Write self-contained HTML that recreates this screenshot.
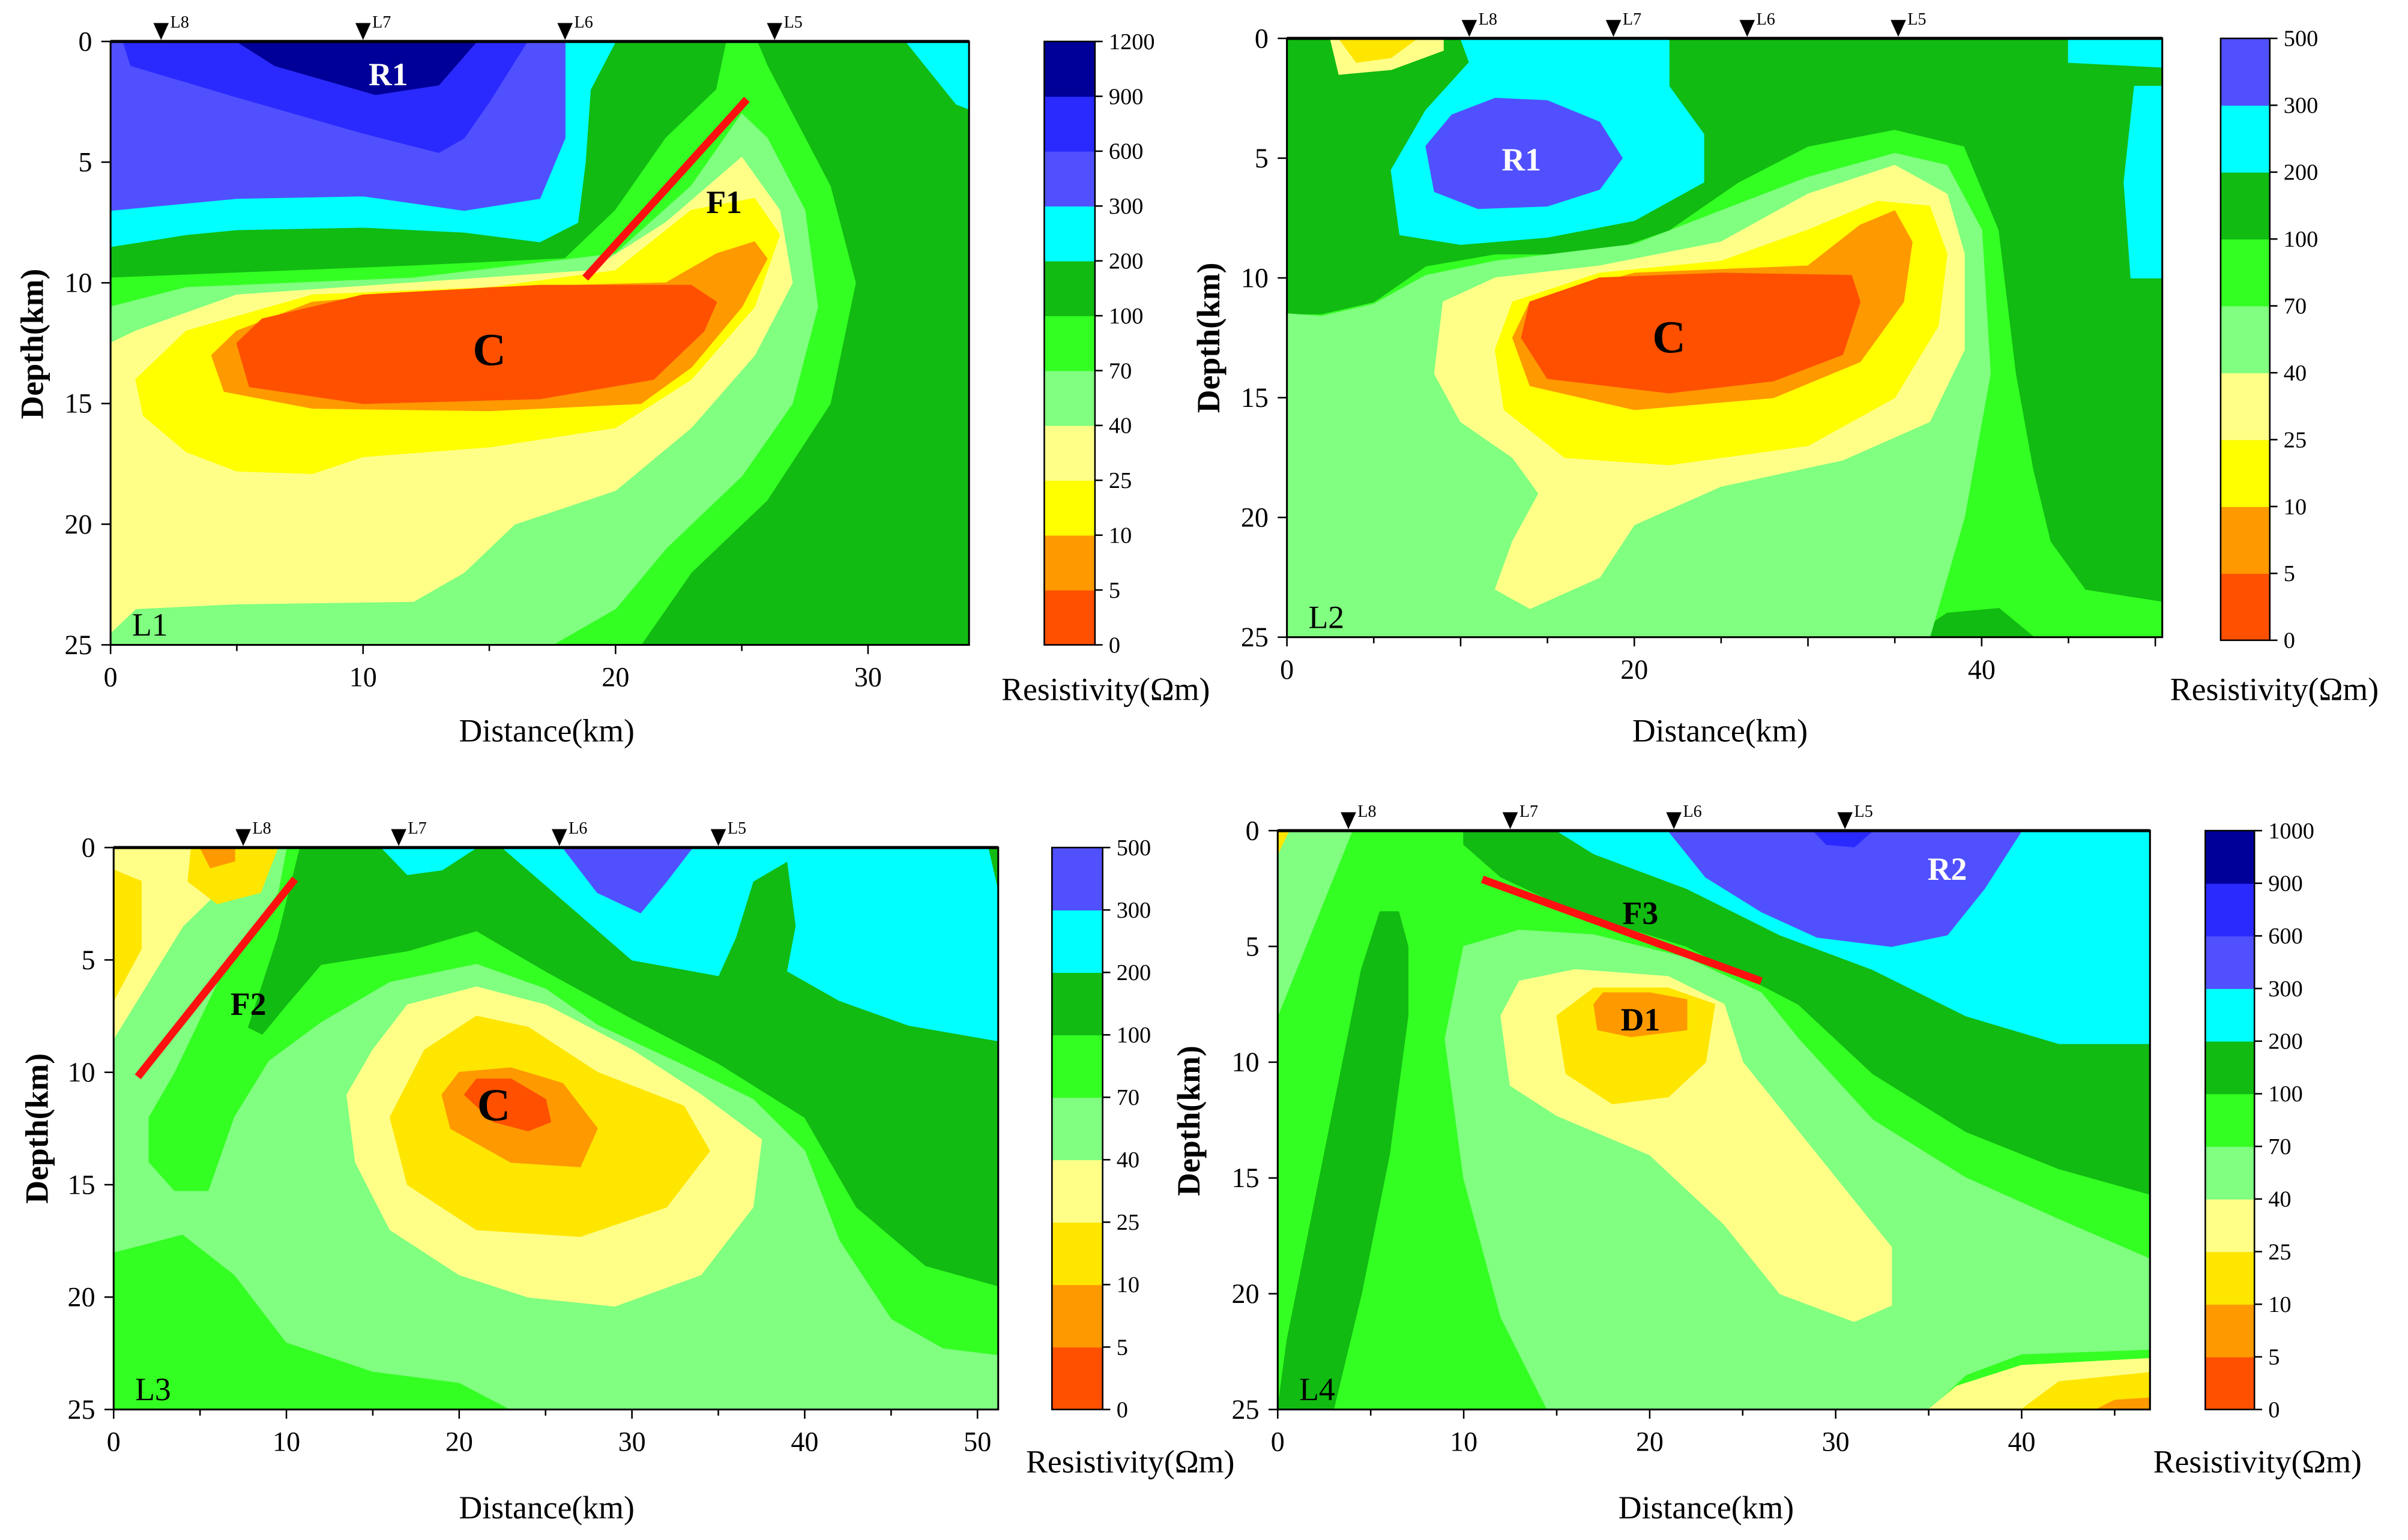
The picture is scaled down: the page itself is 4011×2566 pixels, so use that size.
<!DOCTYPE html>
<html><head><meta charset="utf-8"><style>
html,body{margin:0;padding:0;background:#fff;}
svg{display:block;font-family:"Liberation Serif",serif;}
svg text{font-family:"Liberation Serif",serif;}
</style></head><body>
<svg id="fig" width="4011" height="2566" viewBox="0 0 1568 1003" preserveAspectRatio="none" font-family="Liberation Serif, serif" xmlns="http://www.w3.org/2000/svg"></svg>
<script>
// ---------- data ----------
const C={red:'#ff5000',orange:'#ff9900',yellow:'#ffff00',gold:'#ffe600',lyellow:'#ffff88',lgreen:'#80ff80',green:'#33ff22',dgreen:'#11bb11',cyan:'#00ffff',blue1:'#5050ff',blue2:'#2a2aff',navy:'#000099'};
const depthTicks=[0,5,10,15,20,25];
const cbLabels12=['0','5','10','25','40','70','100','200','300','600','900','1200'];
const cbLabels10=['0','5','10','25','40','70','100','200','300','500'];
const cbLabelsL4=['0','5','10','25','40','70','100','200','300','600','900','1000'];
const cbColors11=['red','orange','yellow','lyellow','lgreen','green','dgreen','cyan','blue1','blue2','navy'];
const cbColors9=['red','orange','yellow','lyellow','lgreen','green','dgreen','cyan','blue1'];
const cbColors9g=['red','orange','gold','lyellow','lgreen','green','dgreen','cyan','blue1'];
const cbColors11g=['red','orange','gold','lyellow','lgreen','green','dgreen','cyan','blue1','blue2','navy'];

const l1XTicks=[0,10,20,30];
const l1Stations=[['L8',2],['L7',10],['L6',18],['L5',26.3]];
const l1Layers=[
['dgreen',[[0,0],[34,0],[34,25],[0,25]]],
['green',[[0,9.8],[0,25],[21,25],[23,22],[26,19],[28.5,15],[29.5,10],[28.5,6],[27,3],[26,1],[25.6,0],[24.4,0],[24,2],[22,4],[20,7],[18,9],[12,9.3]]],
['lgreen',[[0,11],[0,25],[17.5,25],[20,23.5],[22,21],[25,18],[27,15],[28,11],[27.5,7],[26,4],[25,3],[23,6],[20,8.8],[12,9.8],[3,10.2]]],
['lyellow',[[0,12.5],[0,24.5],[1,23.5],[5,23.3],[12,23.2],[14,22],[16,20],[20,18.6],[23,16],[25.5,13],[27,10],[26.5,7],[25,4.8],[22,7.5],[19,9.5],[12,10],[5,10.5],[1,12]]],
['yellow',[[1,14],[1.3,15.5],[3,17],[5,17.8],[8,17.9],[10,17.2],[15,16.8],[20,16],[23,14],[25.5,11],[26.5,8],[25.5,6.5],[23,7],[20,9.5],[15,10.2],[8,10.5],[3,12]]],
['orange',[[4,13],[4.5,14.5],[8,15.2],[15,15.3],[21,15],[23,13.5],[25,11],[26,9],[25.5,8.3],[24,8.8],[22,10],[15,10.2],[8,10.8],[5,12]]],
['red',[[5,12.5],[5.5,14.3],[10,15],[17,14.8],[21.5,14],[23.5,12],[24,10.8],[23,10.1],[17,10.1],[10,10.5],[6,11.5]]],
['cyan',[[0,0],[0,8.5],[3,8],[5,7.8],[10,7.7],[14,7.9],[17,8.3],[18.5,7.5],[18.8,5],[19,2],[20,0]]],
['blue1',[[0,0],[0,7],[5,6.5],[10,6.4],[14,7],[17,6.5],[18,4],[18,0]]],
['blue2',[[0.5,0],[0.8,1],[5,2.3],[10,3.8],[13,4.6],[14,4],[15,2.5],[16.5,0]]],
['navy',[[5,0],[6.5,1],[10.5,2.2],[13,1.8],[14.5,0]]],
['cyan',[[31.5,0],[33.5,2.6],[34,2.8],[34,0]]]
];
const l1Fault=[[18.8,9.8],[25.2,2.4]];
const l1Notes=[['R1',11,1.3,'#fff'],['C',15,12.9,'#000'],['F1',24.3,6.6,'#000']];

const l2XTicks=[0,20,40];
const l2Stations=[['L8',10.5],['L7',18.8],['L6',26.5],['L5',35.2]];
const l2Layers=[
['green',[[0,0],[50.4,0],[50.4,25],[0,25]]],
['dgreen',[[0,0],[0,11.5],[2,11.5],[5,11],[8,9.5],[12,9],[18,9],[22,8],[26,6],[30,4.5],[35,3.8],[39,4.5],[41,8],[42,14],[43,18],[44,21],[46,23],[50.4,23.5],[50.4,0]]],
['dgreen',[[36,25],[38,24],[41,23.8],[43,25]]],
['lgreen',[[0,11.5],[0,25],[37,25],[39,20],[40.5,14],[40,8],[38,5.3],[35,4.8],[30,5.8],[25,7.2],[20,8.6],[12,9.3],[8,9.9],[5,11.1],[2,11.6]]],
['cyan',[[10,0],[10.5,1],[8,3],[6,5.5],[6.5,8.2],[10,8.6],[15,8.3],[20,7.6],[24,6],[24,4],[22,2],[22,0]]],
['cyan',[[45,0],[45,1],[50.4,1.2],[50.4,0]]],
['cyan',[[48.8,2],[48.2,6],[48.6,10],[50.4,10],[50.4,2]]],
['blue1',[[8,4.5],[8.5,6.4],[11,7.1],[15,7],[18,6.3],[19.3,5],[18,3.5],[15,2.6],[12,2.5],[9.5,3.2]]],
['lyellow',[[2.5,0],[3,1.5],[6,1.3],[9,0.5],[9,0]]],
['gold',[[3,0],[4,1],[6,0.8],[7.5,0]]],
['lyellow',[[9,11],[8.5,14],[10,16],[13,17.5],[14.5,19],[13,21],[12,23],[14,23.8],[18,22.5],[20,20.3],[25,18.7],[32,17.6],[37,16],[39,13],[39,9],[38,6.5],[35,5.3],[30,6.5],[25,8.5],[18,9.5],[12,10]]],
['yellow',[[12,13],[12.5,15.5],[16,17.5],[22,17.8],[30,17],[35,15],[37.5,12],[38,9],[37,7],[34,6.8],[30,8],[25,9.3],[18,9.8],[13,11]]],
['orange',[[13,12.5],[14,14.5],[20,15.5],[28,15],[33,13.5],[35.5,11],[36,8.5],[35,7.2],[33,7.8],[30,9.5],[20,9.8],[14,11]]],
['red',[[13.5,12.5],[15,14.2],[22,14.8],[28,14.3],[32,13.2],[33,11],[32.5,9.9],[25,9.8],[18,10],[14,11]]]
];
const l2Notes=[['R1',13.5,5,'#fff'],['C',22,12.6,'#000']];

const l3XTicks=[0,10,20,30,40,50];
const l3Stations=[['L8',7.5],['L7',16.5],['L6',25.8],['L5',35]];
const l3Layers=[
['green',[[0,0],[51.2,0],[51.2,25],[0,25]]],
['dgreen',[[10.8,0],[9.5,4],[7.8,8],[8.6,8.3],[10,7],[12,5.2],[17,4.6],[21,3.7],[25,5.5],[30,7.6],[35,9.6],[40,12],[43,16],[47,18.6],[51.2,19.5],[51.2,0]]],
['lgreen',[[0,0],[10,0],[9.5,2],[6,6],[3.5,10],[2,12],[2,14],[3.5,15.3],[5.5,15.3],[7,12],[9,9.5],[12,7.8],[16,6],[21,5.2],[25,6.3],[28,7.9],[33,9.7],[37,11.2],[40,13.5],[42,17.5],[45,21],[48,22.3],[51.2,22.6],[51.2,25],[23,25],[20,23.8],[15,23.3],[10,22],[7,19],[4,17.2],[1,17.8],[0,18]]],
['cyan',[[22.5,0],[27,3],[30,5],[35,5.7],[36,4],[37,1.5],[39,0.6],[39.5,3.5],[39,5.5],[42,6.8],[46,7.9],[51.2,8.6],[51.2,2],[50.6,0]]],
['cyan',[[15.5,0],[17,1.2],[19,1],[21,0]]],
['blue1',[[26,0],[28,2],[30.5,2.9],[32,1.5],[33.5,0]]],
['lyellow',[[0,0],[0,8.5],[2,6],[4,3.5],[6,2],[8.5,1.2],[9.5,0]]],
['gold',[[0,1],[0,6.8],[1.6,4.5],[1.6,1.5]]],
['gold',[[4.5,0],[4.3,1.5],[6,2.5],[8.5,2],[9.5,0]]],
['orange',[[5,0],[5.6,0.9],[7,0.6],[7,0]]],
['lyellow',[[14,14],[16,17],[20,19],[24,20],[29,20.4],[34,19],[37,16],[37.5,13],[34,11],[30,9],[25,7],[21,6.2],[17,7],[15,9],[13.5,11]]],
['gold',[[16,12],[17,15],[21,17],[27,17.3],[32,16],[34.5,13.5],[33,11.5],[28,10],[24,8],[21,7.5],[18,9]]],
['orange',[[19,11],[19.5,12.5],[23,14],[27,14.2],[28,12.5],[26,10.5],[23,9.8],[20,10]]],
['red',[[20.3,11],[22,12.2],[24,12.6],[25.3,12.2],[25,11.2],[23,10.3],[21,10.3]]]
];
const l3Fault=[[1.4,10.2],[10.5,1.4]];
const l3Notes=[['F2',7.8,6.9,'#000'],['C',22,11.6,'#000']];

const l4XTicks=[0,10,20,30,40];
const l4Stations=[['L8',3.8],['L7',12.5],['L6',21.3],['L5',30.5]];
const l4Layers=[
['green',[[0,0],[46.9,0],[46.9,25],[0,25]]],
['lgreen',[[0,0],[0,8],[2,4],[3.5,1],[4,0]]],
['gold',[[0,0],[0,1],[0.6,0]]],
['dgreen',[[5.5,3.5],[4.5,6],[3,12],[1.5,18],[0.5,22],[0,25],[3,25],[4.5,20],[6,14],[7,8],[7,5],[6.5,3.5]]],
['dgreen',[[10,0],[46.9,0],[46.9,15.7],[42,14.6],[37,13],[32,10.5],[28,7.5],[22,5],[16,3.5],[12,2],[10,0.6]]],
['cyan',[[15,0],[17,1],[22,2.5],[27,4.5],[32,6],[37,8],[42,9.2],[46.9,9.2],[46.9,0]]],
['blue1',[[21,0],[23,2],[26,3.5],[29,4.6],[33,5],[36,4.5],[38,2.5],[40,0]]],
['blue2',[[28.8,0],[29.5,0.6],[31,0.7],[32,0]]],
['lgreen',[[10,5],[9,9],[10,15],[12,21],[14.5,25],[35,25],[37,23.5],[40,22.6],[46.9,22.4],[46.9,18.5],[42,16.8],[37,15],[32,12.5],[28,9],[26,7],[22,5.5],[17,4.5],[13,4.3]]],
['lyellow',[[12,8],[12.5,11],[15,12.3],[20,14],[24,17],[27,20],[31,21.2],[33,20.5],[33,18],[30,15],[27,12],[25,10],[24,7.5],[21,6.3],[16,6],[13,6.5]]],
['lyellow',[[35,25],[36.5,24],[40,23.1],[46.9,22.8],[46.9,25]]],
['gold',[[15,8],[15.5,10.5],[18,11.8],[21,11.5],[23,10],[23.5,7.5],[21,6.8],[17,6.8]]],
['gold',[[40,25],[42,23.8],[46.9,23.4],[46.9,25]]],
['orange',[[17,7.5],[17.2,8.6],[19,8.9],[22,8.6],[22,7.3],[20,7],[17.5,7]]],
['orange',[[44,25],[45,24.6],[46.9,24.5],[46.9,25]]]
];
const l4Fault=[[11,2.1],[26,6.5]];
const l4Notes=[['R2',36,1.6,'#fff'],['F3',19.5,3.5,'#000'],['D1',19.5,8.1,'#000']];

// ---------- layout ----------
const panels=[
{id:'l1',name:'L1',box:[72,27,631,420],xmax:34,xticks:l1XTicks,layers:l1Layers,stations:l1Stations,fault:l1Fault,notes:l1Notes,cb:[680,27,713,420],cbLabels:cbLabels12,cbColors:cbColors11,xt:[356,483],yt:[28,224],rt:[720,456]},
{id:'l2',name:'L2',box:[838,25,1408,415],xmax:50.4,xticks:l2XTicks,layers:l2Layers,stations:l2Stations,fault:null,notes:l2Notes,cb:[1446,25,1478,417],cbLabels:cbLabels10,cbColors:cbColors9,xt:[1120,483],yt:[794,220],rt:[1481,456]},
{id:'l3',name:'L3',box:[74,552,650,918],xmax:51.2,xticks:l3XTicks,layers:l3Layers,stations:l3Stations,fault:l3Fault,notes:l3Notes,cb:[685,552,718,918],cbLabels:cbLabels10,cbColors:cbColors9g,xt:[356,989],yt:[31,735],rt:[736,959]},
{id:'l4',name:'L4',box:[832,541,1400,918],xmax:46.9,xticks:l4XTicks,layers:l4Layers,stations:l4Stations,fault:l4Fault,notes:l4Notes,cb:[1436,541,1468,918],cbLabels:cbLabelsL4,cbColors:cbColors11g,xt:[1111,989],yt:[781,730],rt:[1470,959]}
];
const NS='http://www.w3.org/2000/svg';
const svg=document.getElementById('fig');
function mk(tag,attrs,parent){const e=document.createElementNS(NS,tag);for(const k in attrs)e.setAttribute(k,attrs[k]);(parent||svg).appendChild(e);return e;}
function txt(s,attrs,parent){attrs['font-family']='Liberation Serif, serif';const e=mk('text',attrs,parent);e.textContent=s;return e;}

panels.forEach(p=>{
  const [x0,y0,x1,y1]=p.box;
  const sx=x=>x0+x/p.xmax*(x1-x0);
  const sy=d=>y0+d/25*(y1-y0);
  const g=mk('g',{});
  
  
  const clipId='clip-'+p.id;
  const cp=mk('clipPath',{id:clipId},g);mk('rect',{x:x0,y:y0,width:x1-x0,height:y1-y0},cp);
  const plot=mk('g',{'clip-path':'url(#'+clipId+')'},g);
  
  
  p.layers.forEach(([col,pts],i)=>{
    const poly=mk('polygon',{points:pts.map(q=>sx(q[0]).toFixed(1)+','+sy(q[1]).toFixed(1)).join(' '),fill:C[col],stroke:C[col],'stroke-width':0.6,'stroke-linejoin':'round'},plot);
    
    
  });
  if(p.fault){const f=mk('line',{x1:sx(p.fault[0][0]),y1:sy(p.fault[0][1]),x2:sx(p.fault[1][0]),y2:sy(p.fault[1][1]),stroke:'#ff1010','stroke-width':5},g);
    }
  p.notes.forEach(([s,x,d,col])=>{const t=txt(s,{x:sx(x),y:sy(d)+8,'text-anchor':'middle','font-size':s.length>1?21:30,'font-weight':'bold',fill:col},g);
    });
  const pl=txt(p.name,{x:x0+14,y:y1-6,'font-size':21,fill:'#000'},g);
  
  const fr=mk('rect',{x:x0,y:y0,width:x1-x0,height:y1-y0,fill:'none',stroke:'#000','stroke-width':1.2},g);
  
  mk('line',{x1:x0,y1:y0,x2:x1,y2:y0,stroke:'#000','stroke-width':2},g);
  for(let v=0;v<=p.xmax;v+=5){const major=v%10===0;
    mk('line',{x1:sx(v),y1:y1,x2:sx(v),y2:y1+(major?6:4),stroke:'#000','stroke-width':1},g);}
  p.xticks.forEach(v=>{const t=txt(String(v),{x:sx(v),y:y1+27,'text-anchor':'middle','font-size':18},g);
    });
  depthTicks.forEach(v=>{mk('line',{x1:x0-6,y1:sy(v),x2:x0,y2:sy(v),stroke:'#000','stroke-width':1},g);
    const t=txt(String(v),{x:x0-12,y:sy(v)+6,'text-anchor':'end','font-size':18},g);
    });
  const xt=txt('Distance(km)',{x:p.xt[0],y:p.xt[1],'text-anchor':'middle','font-size':21},g);
  
  const yt=txt('Depth(km)',{x:p.yt[0],y:p.yt[1],'text-anchor':'middle','font-size':21,'font-weight':'bold',transform:'rotate(-90 '+p.yt[0]+' '+p.yt[1]+')'},g);
  
  p.stations.forEach(([s,x])=>{const X=sx(x);
    const tri=mk('polygon',{points:(X-5)+','+(y0-12)+' '+(X+5)+','+(y0-12)+' '+X+','+(y0-1),fill:'#000'},g);
    
    const t=txt(s,{x:X+6,y:y0-9,'font-size':11},g);
    });
  const [cx0,cy0,cx1,cy1]=p.cb;const n=p.cbColors.length;const bh=(cy1-cy0)/n;
  const cbg=mk('g',{},g);
  p.cbColors.forEach((col,i)=>{const r=mk('rect',{x:cx0,y:cy1-(i+1)*bh,width:cx1-cx0,height:bh+0.3,fill:C[col]},cbg);
    });
  mk('rect',{x:cx0,y:cy0,width:cx1-cx0,height:cy1-cy0,fill:'none',stroke:'#000','stroke-width':1},cbg);
  p.cbLabels.forEach((s,i)=>{const Y=cy1-i*bh;
    mk('line',{x1:cx1,y1:Y,x2:cx1+5,y2:Y,stroke:'#000','stroke-width':1},cbg);
    const t=txt(s,{x:cx1+9,y:Y+5,'font-size':15},cbg);
    });
  const rt=txt('Resistivity(Ωm)',{x:p.rt[0],y:p.rt[1],'text-anchor':'middle','font-size':21},g);
  
});
</script>
</body></html>
